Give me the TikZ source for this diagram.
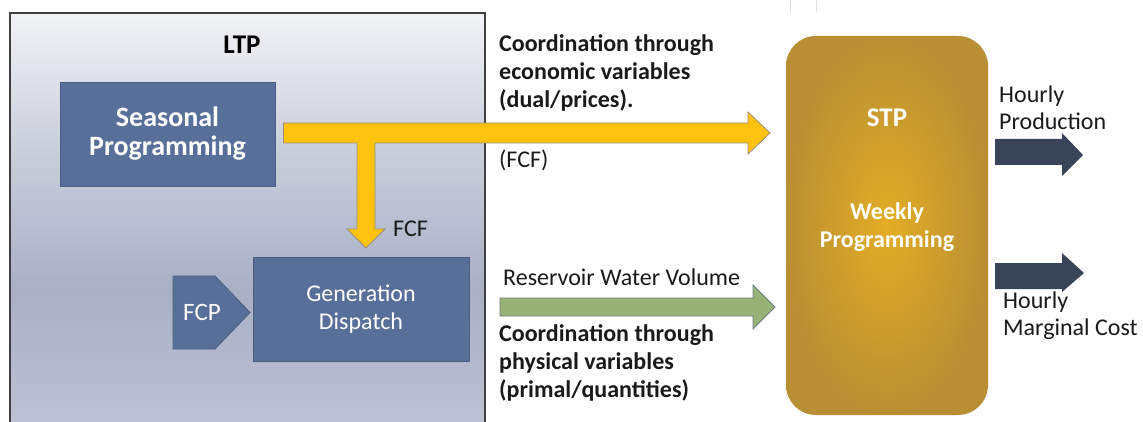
\documentclass[tikz,border=0pt]{standalone}
\usepackage{fontspec}
\setmainfont{Carlito}
\usetikzlibrary{calc}
\definecolor{boxblue}{HTML}{586F99}
\definecolor{boxedge}{HTML}{4A5C80}
\definecolor{yel}{HTML}{FEC20F}
\definecolor{yeledge}{HTML}{9A8F7A}
\definecolor{grn}{HTML}{98B174}
\definecolor{grnedge}{HTML}{6E7F8A}
\definecolor{darkarr}{HTML}{3A4459}
\definecolor{ltptop}{HTML}{F2F3F6}
\definecolor{ltpmid}{HTML}{A9AFC5}
\definecolor{ltpbot}{HTML}{BCC1D3}
\definecolor{stpin}{HTML}{E3AD25}
\definecolor{stpout}{HTML}{B98F33}
\definecolor{txt}{HTML}{1A1A1A}
\begin{document}
\begin{tikzpicture}[x=1pt,y=-1pt,
  bluebox/.style={draw=boxedge, line width=0.8pt, fill=boxblue, text=white, align=center, inner sep=0pt},
  lbl/.style={text=txt, align=left, anchor=west, inner sep=0pt, font=\fontsize{24}{28}\selectfont},
  blbl/.style={lbl, font=\fontsize{24}{28}\selectfont\bfseries},
  yarrow/.style={fill=yel, draw=yeledge, line width=0.8pt, line join=miter},
  garrow/.style={fill=grn, draw=grnedge, line width=0.8pt},
  darrow/.style={fill=darkarr, draw=none}]
\useasboundingbox (0,0) rectangle (1143,422);
\fill[white] (0,0) rectangle (1143,422);
% faint marks at top
\draw[black!12, line width=1pt] (790,0) -- (790,12) (816,0) -- (816,12);
% LTP panel
\shade[top color=ltptop, bottom color=ltpmid, middle color=ltpmid!55!ltptop, shading angle=0] (10,13) rectangle (485,290);
\shade[top color=ltpmid, bottom color=ltpbot] (10,290) rectangle (485,423);
\draw[black!75, line width=1.2pt] (10,423) -- (10,13) -- (485,13) -- (485,423);
\node[font=\fontsize{27}{28}\selectfont\bfseries, text=black] (ltp) at (242,45) {LTP};
% blue boxes
\node[bluebox, minimum width=215pt, minimum height=104pt, font=\fontsize{28}{29}\selectfont\bfseries] (sp) at (167.5,134) {Seasonal\\Programming};
\node[bluebox, minimum width=216pt, minimum height=104pt, font=\fontsize{24}{28}\selectfont] (gd) at (361,309) {Generation\\Dispatch};
\filldraw[fill=boxblue, draw=boxedge, line width=0.8pt] (173,276) -- (215,276) -- (250,312.5) -- (215,349) -- (173,349) -- cycle;
\node[text=white, font=\fontsize{25}{28}\selectfont] (fcp) at (202,312.5) {FCP};
% yellow arrows (to STP and down to dispatch)
\draw[yarrow] ($(sp.east)+(8,-11)$) -- (748,123) -- (748,112) -- (770,133) -- (748,154) -- (748,143) -- (375,143) -- (375,229) -- (385,229) -- (366,248) -- (347,229) -- (357,229) -- (357,143) -- ($(sp.east)+(8,9)$) -- cycle;
\node[lbl] (fcf) at (393,229) {FCF};
\node[blbl] (econ) at (499,73) {Coordination through\\economic variables\\(dual/prices).};
\node[lbl] (fcf2) at (499,160) {(FCF)};
% STP box
\shade[inner color=stpin, outer color=stpout, rounded corners=30pt] (786,36) rectangle (988,415);
\node[text=white, font=\fontsize{27}{28}\selectfont\bfseries] (stp) at (887,118) {STP};
\node[text=white, align=center, font=\fontsize{24}{28}\selectfont\bfseries] (wp) at (887,227) {Weekly\\Programming};
% green arrow
\draw[garrow] (500,298) -- (753,298) -- (753,285) -- (775,307) -- (753,329) -- (753,316) -- (500,316) -- cycle;
\node[lbl] (rwv) at (503,277) {Reservoir Water Volume};
\node[blbl] (phys) at (499,363) {Coordination through\\physical variables\\(primal/quantities)};
% dark arrows
\fill[darrow] (995,139) -- (1062,139) -- (1062,133) -- (1083,155) -- (1062,176) -- (1062,165) -- (995,165) -- cycle;
\fill[darrow] (995,263) -- (1062,263) -- (1062,253) -- (1084,273) -- (1062,292) -- (1062,289) -- (995,289) -- cycle;
\node[lbl, font=\fontsize{24}{27}\selectfont] (hp) at (999,108) {Hourly\\Production};
\node[lbl, font=\fontsize{24}{27}\selectfont] (hmc) at (1003,316) {Hourly\\Marginal Cost};
\end{tikzpicture}
\end{document}
